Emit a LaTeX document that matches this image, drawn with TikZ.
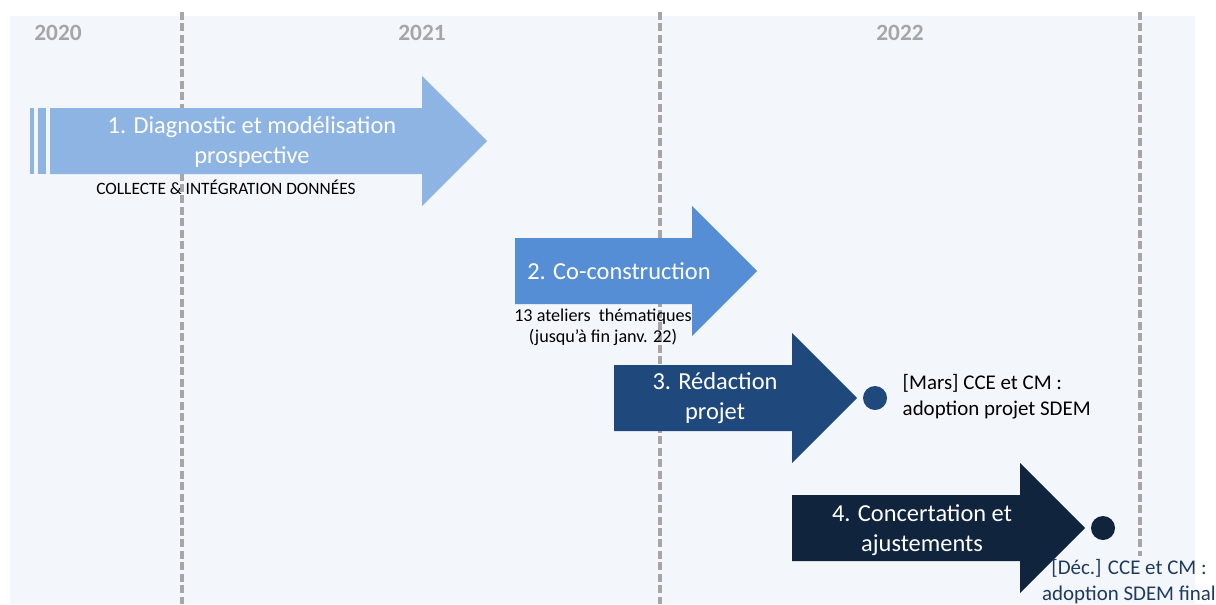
\documentclass[tikz,border=0pt]{standalone}
\usepackage{fontspec}
\setmainfont{Carlito}
\definecolor{panelbg}{HTML}{F3F7FB}
\definecolor{gridgray}{HTML}{A6A6A6}
\definecolor{phaseone}{HTML}{8EB4E3}
\definecolor{phasetwo}{HTML}{558ED5}
\definecolor{phasethree}{HTML}{1F497D}
\definecolor{phasefour}{HTML}{10243E}
\definecolor{milestonetxt}{HTML}{1F3A5F}
\tikzset{
    yearlabel/.style={text=gridgray, font=\bfseries\fontsize{17.5}{20}\selectfont},
    yearline/.style={draw=gridgray, line width=2.6pt, dash pattern=on 6pt off 2.6pt},
    phasetext/.style={text=white, align=center, font=\fontsize{18.3}{22}\selectfont},
    notetext/.style={align=center, font=\fontsize{13.6}{16}\selectfont},
    milestone/.style={circle, inner sep=0pt, minimum size=18pt},
    milestonelabel/.style={align=left, font=\fontsize{15.7}{19.5}\selectfont}
}
\begin{document}
\begin{tikzpicture}[x=0.75pt,y=-0.75pt]
        \useasboundingbox (0,0) rectangle (1216,604);
        \fill[panelbg] (10,16) rectangle (1195,604);
        % year separators
        \foreach \x/\yend in {182/604,660/604,1140/556}{
            \draw[yearline] (\x,12) -- (\x,\yend);
        }
        \node[yearlabel] (y2020) at (58,33) {2020};
        \node[yearlabel] (y2021) at (422,33) {2021};
        \node[yearlabel] (y2022) at (900,33) {2022};
        % phase 1
        \fill[phaseone] (29.5,108) rectangle (34,174);
        \fill[phaseone] (38,108) rectangle (46,174);
        \fill[phaseone] (50,108) -- (422,108) -- (422,76) -- (487,141) -- (422,206) -- (422,174) -- (50,174) -- cycle;
        \node[phasetext] (p1) at (252,142) {1. Diagnostic et modélisation\\prospective};
        \node[notetext, font=\fontsize{13}{15}\selectfont] (n1) at (226,187) {COLLECTE \& INTÉGRATION DONNÉES};
        % phase 2
        \fill[phasetwo] (515,238) -- (692,238) -- (692,206) -- (757,271) -- (692,336) -- (692,304) -- (515,304) -- cycle;
        \node[phasetext] (p2) at (619,271) {2. Co-construction};
        \node[notetext] (n2) at (603,327) {13 ateliers\ \ thématiques\\(jusqu’à fin janv. 22)};
        % phase 3
        \fill[phasethree] (614,365) -- (792,365) -- (792,333) -- (857,398) -- (792,463) -- (792,431) -- (614,431) -- cycle;
        \node[phasetext] (p3) at (715,398) {3. Rédaction\\projet};
        \node[milestone, fill=phasethree] (m1) at (875,398) {};
        \node[milestonelabel, anchor=west] (l1) at (898,397) {[Mars] CCE et CM :\\adoption projet SDEM};
        % phase 4
        \fill[phasefour] (792,495) -- (1020,495) -- (1020,463) -- (1085,528) -- (1020,593) -- (1020,561) -- (792,561) -- cycle;
        \node[phasetext] (p4) at (922,530) {4. Concertation et\\ajustements};
        \node[milestone, fill=phasefour] (m2) at (1103,528) {};
        \node[milestonelabel, align=center, text=milestonetxt] (l2) at (1129,582) {[Déc.] CCE et CM :\\adoption SDEM final};
\end{tikzpicture}
\end{document}
